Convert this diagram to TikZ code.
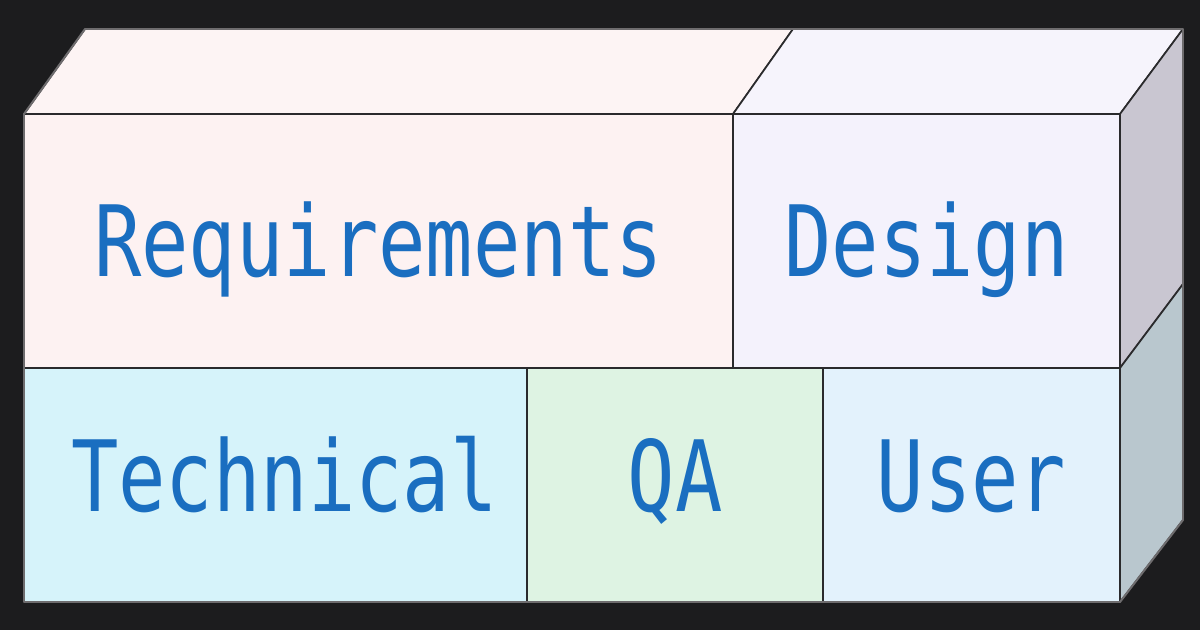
\documentclass[tikz,border=0pt]{standalone}
\usepackage{fontspec}
\newfontfamily\boxfont{DejaVu Sans Mono}[FakeStretch=0.80]
\usetikzlibrary{positioning}
\definecolor{bg}{HTML}{1C1C1E}
\definecolor{edge}{HTML}{2A2A2C}
\definecolor{rim}{HTML}{6E6C6E}
\definecolor{ink}{HTML}{1A6EC0}
\definecolor{reqfill}{HTML}{FDF2F2}
\definecolor{desfill}{HTML}{F4F2FC}
\definecolor{techfill}{HTML}{D6F3FA}
\definecolor{qafill}{HTML}{DEF3E3}
\definecolor{userfill}{HTML}{E3F2FC}
\definecolor{topleft}{HTML}{FDF4F4}
\definecolor{topright}{HTML}{F6F4FC}
\definecolor{sideup}{HTML}{C9C6D1}
\definecolor{sidelow}{HTML}{B9C7CE}

\begin{document}
\begin{tikzpicture}[x=0.25mm, y=-0.25mm,
    cell/.style={draw=edge, line width=1.2pt, inner sep=0pt, outer sep=0pt, text=ink,
      font=\fontsize{70}{70}\boxfont, text height=51pt, text depth=0pt},
    lowcell/.style={cell, text depth=14pt, minimum height=234*0.25mm},
    face/.style={draw=edge, line width=1.2pt, line join=round}]
\fill[bg] (0,0) rectangle (1200,630);
\useasboundingbox (0,0) rectangle (1200,630);

% front
\node[cell, fill=reqfill, anchor=north west, minimum width=709*0.25mm, minimum height=254*0.25mm] (1) at (24,114) {Requirements};
\node[cell, fill=desfill, right=0pt of 1, minimum width=387*0.25mm, minimum height=254*0.25mm] (2) {Design};
\node[lowcell, fill=techfill, anchor=north west, minimum width=503*0.25mm] (3) at (1.south west) {\kern12.8pt Technical};
\node[lowcell, fill=qafill, right=0pt of 3, minimum width=296*0.25mm] (4) {QA};
\node[lowcell, fill=userfill, right=0pt of 4, minimum width=297*0.25mm] (5) {User};

% back corners
\coordinate (6) at (85,29);
\coordinate (7) at (793,29);
\coordinate (8) at (1183,29);
\coordinate (9) at (1183,284);
\coordinate (10) at (1183,520);

% top and side
\filldraw[face, fill=topleft] (1.north west) -- (6) -- (7) -- (1.north east) -- cycle;
\filldraw[face, fill=topright] (2.north west) -- (7) -- (8) -- (2.north east) -- cycle;
\filldraw[face, fill=sideup] (2.north east) -- (8) -- (9) -- (2.south east) -- cycle;
\filldraw[face, fill=sidelow] (5.north east) -- (9) -- (10) -- (5.south east) -- cycle;

\draw[rim, line width=1.4pt, line join=round] (1.north west) -- (6) -- (8) -- (10) -- (5.south east) -- (3.south west) -- cycle;
\end{tikzpicture}
\end{document}
